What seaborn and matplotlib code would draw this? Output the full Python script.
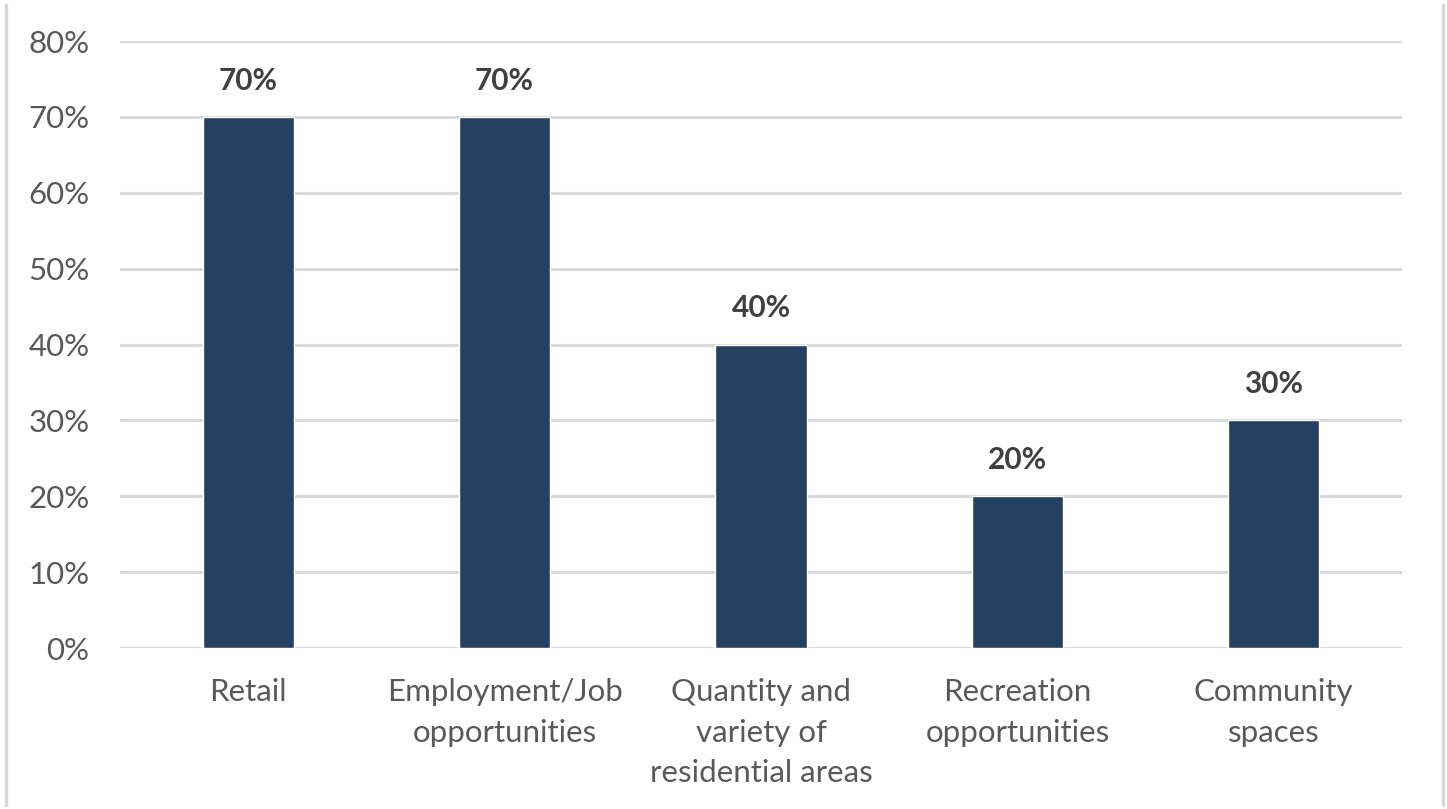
import matplotlib
matplotlib.use("Agg")
import matplotlib.pyplot as plt
import seaborn as sns
import pandas as pd
from matplotlib.lines import Line2D

categories = [
    "Retail",
    "Employment/Job\nopportunities",
    "Quantity and\nvariety of\nresidential areas",
    "Recreation\nopportunities",
    "Community\nspaces",
]
shares = [70, 70, 40, 20, 30]
y_ticks = [0, 10, 20, 30, 40, 50, 60, 70, 80]

df = pd.DataFrame({"category": categories, "share": shares})

sns.set_theme(style="white")
plt.rcParams["font.family"] = ["Lato", "DejaVu Sans"]

W, H, DPI = 1447, 809, 100
fig = plt.figure(figsize=(W / DPI, H / DPI), dpi=DPI)
ax = fig.add_axes([120 / W, 1 - 648 / H, (1402 - 120) / W, (648 - 41) / H])

bar_color = "#264061"
text_color = "#595959"
grid_color = "#D9D9D9"

sns.barplot(data=df, x="category", y="share", color=bar_color,
            width=0.355, saturation=1, ax=ax, zorder=3)

ax.set_ylim(0, 80)
ax.set_xlim(-0.5, len(categories) - 0.5)
ax.set_yticks(y_ticks)
ax.set_yticklabels([f"{v}%" for v in y_ticks], fontsize=22.5, color=text_color)
ax.tick_params(axis="y", length=0, pad=22)
ax.tick_params(axis="x", length=0, pad=21.5)
for lbl in ax.get_xticklabels():
    lbl.set_fontsize(22.5)
    lbl.set_color(text_color)
    lbl.set_linespacing(1.55)
    lbl.set_verticalalignment("top")

ax.grid(axis="y", color=grid_color, linewidth=2.2, zorder=0)
ax.grid(axis="x", visible=False)
for s in ax.spines.values():
    s.set_visible(False)
ax.set_xlabel("")
ax.set_ylabel("")

for i, v in enumerate(shares):
    ax.annotate(f"{v}%", (i, v), xytext=(0, 26), textcoords="offset points",
                ha="center", va="center", fontsize=21.5, fontweight="bold",
                color="#404040")

# thin frame edges on the left and right
for x in (5.5 / W, 1442.5 / W):
    fig.add_artist(Line2D([x, x], [1 - 805 / H, 1 - 5 / H], transform=fig.transFigure,
                          color=grid_color, linewidth=2.5))

fig.savefig("out.png", dpi=DPI)
